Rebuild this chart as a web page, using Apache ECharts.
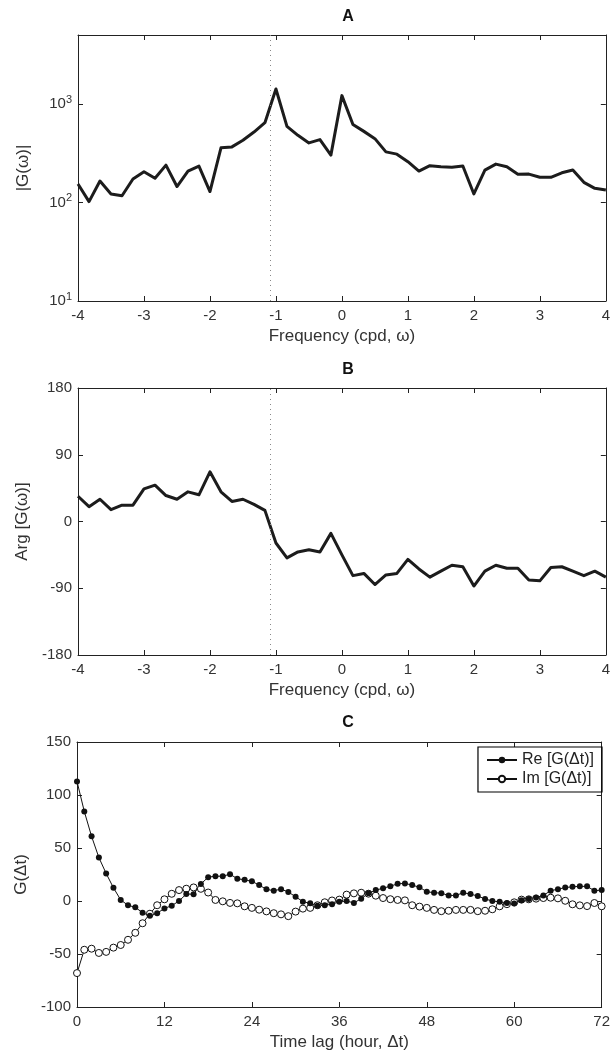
<!DOCTYPE html>
<html>
<head>
<meta charset="utf-8">
<script src="https://cdn.jsdelivr.net/npm/echarts@6/dist/echarts.min.js"></script>
<style>
  html, body { margin: 0; padding: 0; background: #fff; }
  #chart { width: 613px; height: 1053px; }
</style>
</head>
<body>
<div id="chart"></div>
<script>
// frequency grid for panels A and B (cpd)
const freqs = [-4, -3.833, -3.667, -3.5, -3.333, -3.167, -3, -2.833, -2.667, -2.5, -2.333, -2.167,
  -2, -1.833, -1.667, -1.5, -1.333, -1.167, -1, -0.833, -0.667, -0.5, -0.333, -0.167,
  0, 0.167, 0.333, 0.5, 0.667, 0.833, 1, 1.167, 1.333, 1.5, 1.667, 1.833,
  2, 2.167, 2.333, 2.5, 2.667, 2.833, 3, 3.167, 3.333, 3.5, 3.667, 3.833, 4];
// A: |G(w)|
const ampA = [154, 102, 165, 122, 117, 173, 205, 176, 239, 145, 208, 234,
  129, 358, 366, 427, 518, 644, 1416, 591, 480, 402, 434, 302,
  1213, 619, 526, 444, 326, 309, 259, 208, 236, 230, 227, 234,
  122, 213, 245, 230, 193, 194, 180, 180, 200, 213, 160, 139, 134];
// B: Arg[G(w)] in degrees
const argB = [34, 20, 30, 16, 22, 22, 44, 49, 35, 30, 40, 36,
  67, 40, 27, 30, 23, 15, -29, -49, -41, -38, -41, -16,
  -45, -73, -70, -85, -72, -70, -51, -64, -75, -67, -59, -61,
  -87, -67, -59, -63, -63, -79, -80, -62, -61, -67, -73, -67, -75];
const markFreq = -1.08;

// C: time lag (hours)
const lagHours = [0, 1, 2, 3, 4, 5, 6, 7, 8, 9, 10, 11, 12, 13, 14, 15, 16, 17, 18, 19, 20,
  21, 22, 23, 24, 25, 26, 27, 28, 29, 30, 31, 32, 33, 34, 35, 36, 37, 38, 39, 40,
  41, 42, 43, 44, 45, 46, 47, 48, 49, 50, 51, 52, 53, 54, 55, 56, 57, 58, 59, 60,
  61, 62, 63, 64, 65, 66, 67, 68, 69, 70, 71, 72];
const reG = [112.8, 84.5, 61, 41, 26, 12.5, 1, -4, -6, -11, -14, -11.5, -7, -4.4, 0, 6.6, 6.4,
  16, 22.5, 23.4, 23.4, 25.3, 21, 20, 18.6, 15, 11, 9.7, 11.2, 8.5, 4, -0.6, -2.2, -4.4,
  -4, -3, -0.8, 0, -1.8, 2.2, 7.2, 10.3, 12, 14, 16.2, 16.6, 15, 13, 8.75, 7.8, 7.4,
  5.2, 5.3, 7.8, 6.5, 4.7, 1.9, 0, -0.8, -1.8, -2.4, 0.6, 1.9, 3.3, 5.3, 9.7, 11.1,
  12.7, 13.4, 13.8, 13.8, 9.7, 10.3];
const imG = [-68, -46, -45, -49, -48, -44, -41.5, -36.6, -30, -21, -12, -4, 1.6, 6.8, 10.3,
  11.6, 12.8, 11.5, 8, 1, -0.3, -1.8, -2.2, -5, -6.5, -8.2, -9.8, -11.5, -12.6, -14.3,
  -10, -7.2, -6.5, -4, -1.2, 0.5, 1.3, 6, 7.2, 7.8, 6.9, 5, 2.8, 1.7, 1, 0.6, -4,
  -5.3, -6.5, -8.4, -9.6, -9.2, -8.4, -8.4, -8.4, -9.6, -9.2, -7.8, -5, -3, -1.25,
  1.3, 1.6, 2.2, 2.8, 3.1, 2.5, 0.2, -3.1, -4.1, -4.8, -1.9, -5];

const FONT = '"Liberation Sans", Arial, sans-serif';
const axisCol = '#222';
const labelCol = '#333';

const chart = echarts.init(document.getElementById('chart'));

function zip(xs, ys) {
  return xs.map((x, i) => [x, ys[i]]);
}

// 坐标轴公共样式: 刻度朝内, 四边框
function xAx(grid, pos, min, max, interval, name) {
  const main = pos === 'bottom';
  return {
    type: 'value', gridIndex: grid, position: pos, min: min, max: max, interval: interval,
    axisLine: { onZero: false, lineStyle: { color: axisCol, width: 1 } },
    axisTick: { inside: true, length: 5, lineStyle: { color: axisCol } },
    axisLabel: { show: main, color: labelCol, fontFamily: FONT, fontSize: 15, margin: 7 },
    splitLine: { show: false },
    name: main ? name : '', nameLocation: 'middle', nameGap: 27,
    nameTextStyle: { color: labelCol, fontFamily: FONT, fontSize: 17 }
  };
}
function yAx(grid, pos, extra, name, labelExtra) {
  const main = pos === 'left';
  return Object.assign({
    gridIndex: grid, position: pos,
    axisLine: { onZero: false, lineStyle: { color: axisCol, width: 1 } },
    axisTick: { inside: true, length: 5, lineStyle: { color: axisCol } },
    axisLabel: Object.assign({ show: main, color: labelCol, fontFamily: FONT, fontSize: 15, margin: 6 }, labelExtra),
    splitLine: { show: false },
    name: main ? name : '', nameLocation: 'middle', nameGap: 46, nameRotate: 90,
    nameTextStyle: { color: labelCol, fontFamily: FONT, fontSize: 17 }
  }, extra);
}

const logExtra = { type: 'log', logBase: 10, min: 10, max: 5000 };
const logLabel = {
  showMaxLabel: false,
  formatter: v => '10{s|' + Math.round(Math.log10(v)) + '}',
  rich: { s: { fontSize: 11, verticalAlign: 'top', padding: [0, 0, 8, 0], color: labelCol, fontFamily: FONT } }
};
const argExtra = { type: 'value', min: -180, max: 180, interval: 90 };
const gExtra = { type: 'value', min: -100, max: 150, interval: 50 };

const dotted = {
  silent: true, symbol: 'none', label: { show: false },
  lineStyle: { type: [1, 4], color: '#888', width: 1 },
  data: [{ xAxis: markFreq }]
};

const titleStyle = { fontFamily: FONT, fontSize: 16, fontWeight: 'bold', color: '#111' };

const option = {
  animation: false,
  backgroundColor: '#fff',
  title: [
    { text: 'A', left: 343, top: 4, textAlign: 'center', textStyle: titleStyle },
    { text: 'B', left: 343, top: 357, textAlign: 'center', textStyle: titleStyle },
    { text: 'C', left: 343, top: 710, textAlign: 'center', textStyle: titleStyle }
  ],
  grid: [
    { left: 78, right: 5, top: 35, height: 266 },
    { left: 78, right: 5, top: 388, height: 267 },
    { left: 77, right: 5, top: 742, height: 265 }
  ],
  xAxis: [
    xAx(0, 'bottom', -4, 4, 1, 'Frequency (cpd, ω)'),
    xAx(0, 'top', -4, 4, 1, ''),
    xAx(1, 'bottom', -4, 4, 1, 'Frequency (cpd, ω)'),
    xAx(1, 'top', -4, 4, 1, ''),
    xAx(2, 'bottom', 0, 72, 12, 'Time lag (hour, Δt)'),
    xAx(2, 'top', 0, 72, 12, '')
  ],
  yAxis: [
    yAx(0, 'left', logExtra, '|G(ω)|', logLabel),
    yAx(0, 'right', logExtra, '', logLabel),
    yAx(1, 'left', argExtra, 'Arg [G(ω)]'),
    yAx(1, 'right', argExtra, ''),
    yAx(2, 'left', gExtra, 'G(Δt)'),
    yAx(2, 'right', gExtra, '')
  ],
  legend: {
    orient: 'vertical', right: 11, top: 747,
    data: ['Re [G(Δt)]', 'Im [G(Δt)]'],
    borderColor: '#000', borderWidth: 1.2, padding: [5, 8, 5, 8], itemGap: 3,
    itemWidth: 30, itemHeight: 8,
    textStyle: { fontFamily: FONT, fontSize: 16, color: '#222' }
  },
  series: [
    {
      name: 'A', type: 'line', xAxisIndex: 0, yAxisIndex: 0,
      data: zip(freqs, ampA), showSymbol: false,
      lineStyle: { color: '#1c1c1c', width: 3, join: 'round' },
      markLine: dotted
    },
    {
      name: 'B', type: 'line', xAxisIndex: 2, yAxisIndex: 2,
      data: zip(freqs, argB), showSymbol: false,
      lineStyle: { color: '#1c1c1c', width: 3, join: 'round' },
      markLine: dotted
    },
    {
      name: 'Im [G(Δt)]', type: 'line', xAxisIndex: 4, yAxisIndex: 4,
      data: zip(lagHours, imG), symbol: 'circle', symbolSize: 7,
      itemStyle: { color: '#fff', borderColor: '#111', borderWidth: 1 },
      lineStyle: { color: '#111', width: 1 }
    },
    {
      name: 'Re [G(Δt)]', type: 'line', xAxisIndex: 4, yAxisIndex: 4,
      data: zip(lagHours, reG), symbol: 'circle', symbolSize: 6,
      itemStyle: { color: '#111', borderColor: '#111', borderWidth: 0 },
      lineStyle: { color: '#111', width: 1 }
    }
  ]
};
chart.setOption(option);
</script>
</body>
</html>
